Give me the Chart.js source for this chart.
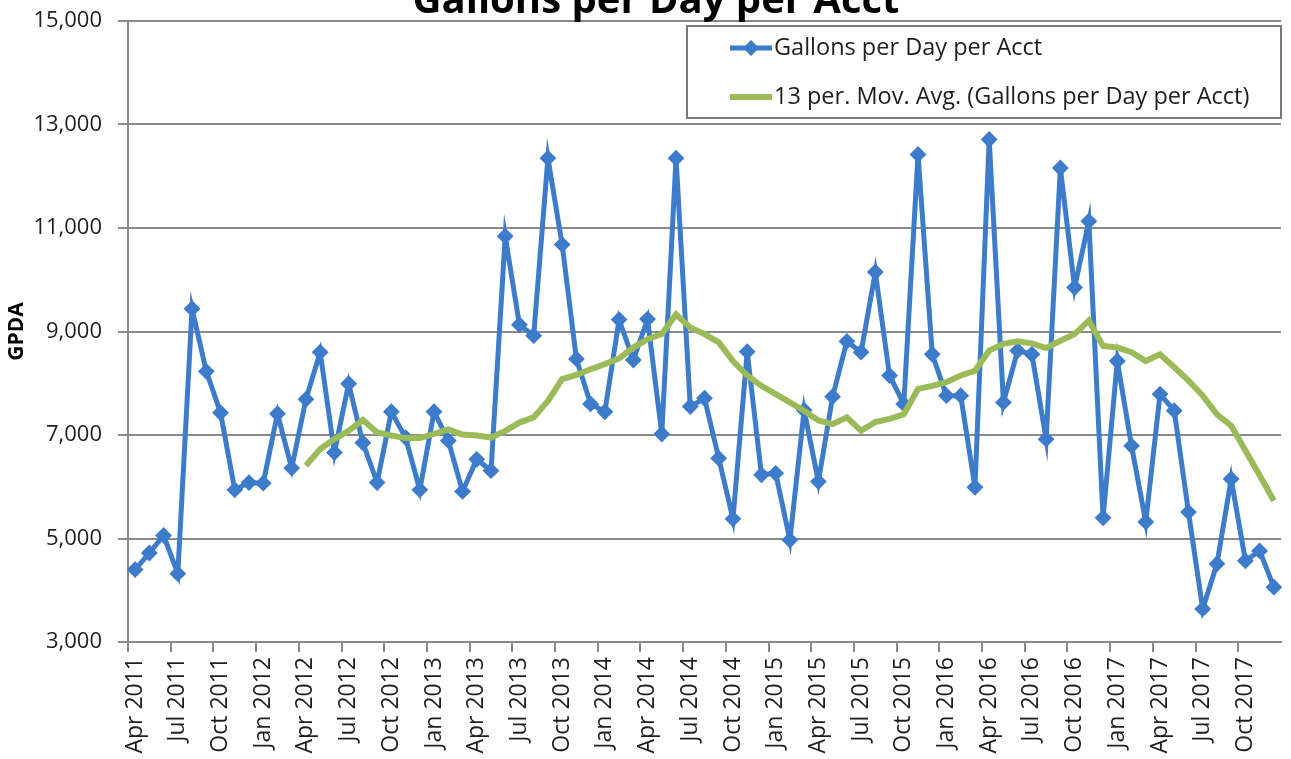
<!DOCTYPE html>
<html>
<head>
<meta charset="utf-8">
<title>Gallons per Day per Acct</title>
<script src="https://cdn.jsdelivr.net/npm/chart.js@4/dist/chart.umd.min.js"></script>
<style>
  html, body { margin: 0; padding: 0; background: #ffffff; }
  #wrap { position: relative; width: 1291px; height: 759px; overflow: hidden; }
</style>
</head>
<body>
<div id="wrap"><canvas id="chart" width="1291" height="759"></canvas></div>
<script>
// ---- data -------------------------------------------------------------
const chartTitle = 'Gallons per Day per Acct';
const yAxisTitle = 'GPDA';
const seriesName = 'Gallons per Day per Acct';
const trendName = '13 per. Mov. Avg. (Gallons per Day per Acct)';

// monthly categories, Apr 2011 .. Dec 2017
const monthAbbr = ['Jan', 'Feb', 'Mar', 'Apr', 'May', 'Jun', 'Jul', 'Aug', 'Sep', 'Oct', 'Nov', 'Dec'];
const firstYear = 2011;
const firstMonth = 3;      // April
const monthCount = 81;
const months = [];
for (let k = 0; k < monthCount; k++) {
  const m = firstMonth + k;
  months.push(monthAbbr[m % 12] + ' ' + (firstYear + Math.floor(m / 12)));
}

// gallons per day per account
const gallonsPerDay = [
  4400, 4720, 5060, 4320, 9440, 8230, 7430, 5940, 6080,          // Apr-Dec 2011
  6070, 7410, 6360, 7690, 8600, 6660, 7990, 6850, 6080, 7450, 6950, 5940,   // 2012
  7450, 6890, 5910, 6530, 6310, 10840, 9130, 8920, 12350, 10680, 8470, 7600, // 2013
  7450, 9230, 8450, 9240, 7020, 12350, 7550, 7710, 6550, 5380, 8610, 6230,   // 2014
  6260, 4970, 7480, 6100, 7740, 8810, 8600, 10150, 8150, 7600, 12420, 8560,  // 2015
  7760, 7760, 5990, 12710, 7630, 8630, 8560, 6920, 12160, 9850, 11130, 5400, // 2016
  8430, 6790, 5320, 7790, 7470, 5510, 3640, 4510, 6150, 4570, 4760, 4060     // 2017
];

// 13-period moving average trend line
const movingAverage = [
  null, null, null, null, null, null, null, null, null,
  null, null, null, 6410, 6730, 6920, 7080, 7290, 7050, 6990, 6940, 6940,
  7020, 7110, 7010, 6990, 6950, 7080, 7240, 7340, 7660, 8080, 8160, 8270,
  8370, 8480, 8690, 8850, 8950, 9330, 9080, 8950, 8790, 8430, 8150, 7950,
  7790, 7630, 7470, 7280, 7210, 7340, 7080, 7250, 7310, 7400, 7890, 7950,
  8020, 8150, 8240, 8630, 8760, 8810, 8770, 8680, 8820, 8950, 9210, 8720,
  8690, 8600, 8430, 8560, 8310, 8050, 7760, 7400, 7180, 6700, 6220, 5730
];

const yMin = 3000;
const yMax = 15000;
const yStep = 2000;

// ---- styling ----------------------------------------------------------
const FAMILY = "'Open Sans', 'Liberation Sans', sans-serif";
const BLUE = '#3d7bcb';
const GREEN = '#9bbb59';
const GRID = '#8a8a8a';
const TEXT = '#1e1e1e';

// chart heading, partly above the top edge of the canvas
const headingPlugin = {
  id: 'heading',
  afterDraw(chart) {
    const c = chart.ctx;
    c.save();
    c.font = 'bold 40px ' + FAMILY;
    c.fillStyle = '#000000';
    c.textAlign = 'center';
    c.textBaseline = 'alphabetic';
    c.fillText(chartTitle, 656, 13);
    c.restore();
  }
};

// framed legend in the upper right of the plot
const boxedLegendPlugin = {
  id: 'boxedLegend',
  afterDraw(chart) {
    const c = chart.ctx;
    const box = { x: 687, y: 26, w: 594, h: 92 };
    c.save();
    c.fillStyle = '#ffffff';
    c.fillRect(box.x, box.y, box.w, box.h);
    c.strokeStyle = '#7a7a7a';
    c.lineWidth = 2;
    c.strokeRect(box.x, box.y, box.w, box.h);

    const sx0 = 730, sx1 = 772, tx = 774;
    const rows = [48, 97];
    chart.data.datasets.forEach((ds, i) => {
      const y = rows[i];
      c.beginPath();
      c.moveTo(sx0, y);
      c.lineTo(sx1, y);
      c.strokeStyle = ds.borderColor;
      c.lineWidth = ds.borderWidth;
      c.stroke();
      if (ds.pointRadius > 0) {
        const cx = (sx0 + sx1) / 2, r = 8;
        c.beginPath();
        c.moveTo(cx - r, y);
        c.lineTo(cx, y - r);
        c.lineTo(cx + r, y);
        c.lineTo(cx, y + r);
        c.closePath();
        c.fillStyle = ds.pointBackgroundColor;
        c.fill();
      }
      c.font = '23.5px ' + FAMILY;
      c.fillStyle = TEXT;
      c.textAlign = 'left';
      c.textBaseline = 'middle';
      c.fillText(ds.label, tx, y);
    });
    c.restore();
  }
};

new Chart(document.getElementById('chart'), {
  type: 'line',
  data: {
    labels: months,
    datasets: [
      {
        label: seriesName,
        data: gallonsPerDay,
        borderColor: BLUE,
        borderWidth: 5,
        pointStyle: 'rectRot',
        pointRadius: 7,
        pointBorderWidth: 2,
        pointBackgroundColor: BLUE,
        pointBorderColor: BLUE,
        tension: 0,
        order: 2
      },
      {
        label: trendName,
        data: movingAverage,
        borderColor: GREEN,
        borderWidth: 6,
        pointRadius: 0,
        tension: 0,
        order: 1
      }
    ]
  },
  options: {
    responsive: false,
    animation: false,
    events: [],
    layout: { padding: { top: 21, right: 10, left: 0, bottom: 0 } },
    plugins: {
      legend: { display: false },
      title: { display: false },
      tooltip: { enabled: false }
    },
    scales: {
      x: {
        type: 'category',
        offset: true,
        grid: {
          offset: true,
          drawOnChartArea: false,
          drawTicks: true,
          tickLength: 10,
          lineWidth: 2,
          color: (ctx) => (ctx.index % 3 === 0 ? GRID : 'rgba(0,0,0,0)')
        },
        border: { display: true, color: GRID, width: 2 },
        ticks: {
          autoSkip: false,
          minRotation: 90,
          maxRotation: 90,
          padding: 5,
          color: TEXT,
          font: { family: FAMILY, size: 23 },
          callback: (value, index) => (index % 3 === 0 ? months[index] : '')
        },
        afterFit: (scale) => {
          scale.height = 117;
          scale.paddingLeft = 0;
          scale.paddingRight = 0;
        }
      },
      y: {
        min: yMin,
        max: yMax,
        grid: { color: GRID, lineWidth: 2, tickLength: 10 },
        border: { display: true, color: GRID, width: 2 },
        ticks: {
          stepSize: yStep,
          padding: 16,
          color: TEXT,
          font: { family: FAMILY, size: 22 },
          callback: (v) => v.toLocaleString('en-US')
        },
        title: {
          display: true,
          text: yAxisTitle,
          color: '#000000',
          font: { family: FAMILY, size: 21, weight: 'bold' },
          padding: { top: 4, bottom: 0 }
        },
        afterFit: (scale) => {
          scale.width = 128;
          scale.paddingTop = 0;
          scale.paddingBottom = 0;
        }
      }
    }
  },
  plugins: [headingPlugin, boxedLegendPlugin]
});
</script>
</body>
</html>
